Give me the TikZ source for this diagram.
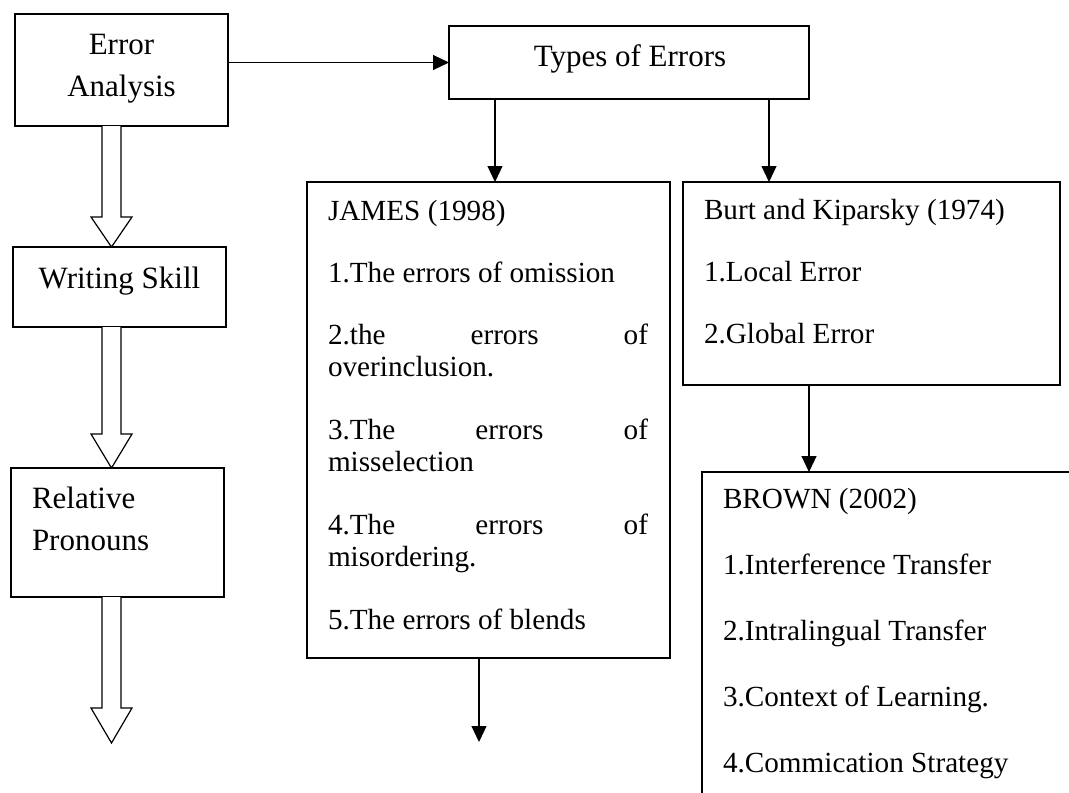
\documentclass[tikz,border=0pt]{standalone}
\usepackage{fontspec}
\setmainfont{Liberation Serif}
\usetikzlibrary{arrows.meta,calc}
\newcommand\lfnt{\fontsize{31}{37}\selectfont}
\newcommand\rfnt{\fontsize{29.2}{35}\selectfont}
\newcommand\hollowdown[3]{\draw[hollow] let \p1=(#1), \p2=(#2) in (102pt,\y1) -- (102pt,\y2+#3) -- (91pt,\y2+#3) -- (111.5pt,\y2) -- (132pt,\y2+#3) -- (121pt,\y2+#3) -- (121pt,\y1);}
\begin{document}
\begin{tikzpicture}[x=1pt,y=-1pt,
  box/.style={draw, line width=1.3pt, inner sep=0pt, outer sep=0pt, anchor=north west},
  lbl/.style={inner sep=0pt, outer sep=0pt, anchor=base west, font=\rfnt},
  lblc/.style={inner sep=0pt, outer sep=0pt, anchor=base, font=\lfnt},
  lbll/.style={inner sep=0pt, outer sep=0pt, anchor=base west, font=\lfnt},
  conn/.style={line width=1.2pt, -{Triangle[length=16pt,width=15pt]}},
  hollow/.style={line width=1.2pt, line join=miter, fill=white}]
\useasboundingbox (0,0) rectangle (1069,793);
\fill[white] (0,0) rectangle (1069,793);
\clip (0,0) rectangle (1069,793);
% boxes
\node[box, minimum width=213pt, minimum height=112pt] (ea) at (15,14) {};
\node[box, minimum width=360pt, minimum height=73pt] (types) at (449,26) {};
\node[box, minimum width=363pt, minimum height=476pt] (james) at (307,182) {};
\node[box, minimum width=377pt, minimum height=203pt] (burt) at (683,182) {};
\node[box, minimum width=213pt, minimum height=80pt] (ws) at (13,247) {};
\node[box, minimum width=213pt, minimum height=129pt] (rp) at (11,468) {};
\node[box, minimum width=450pt, minimum height=400pt] (brown) at (702,472) {};
% texts
\node[lblc] (ea1) at (121.5,54) {Error};
\node[lblc] (ea2) at (121.5,96) {Analysis};
\node[lblc] (ty) at (630,66) {Types of Errors};
\node[lblc] (ws1) at (119.5,288) {Writing Skill};
\node[lbll] (rp1) at (32,508) {Relative};
\node[lbll] (rp2) at (32,550) {Pronouns};
\node[lbl] (j0) at (328,220) {JAMES (1998)};
\node[lbl] (j1) at (328,282) {1.The errors of omission};
\node[lbl] (j2) at (328,344) {\hbox to 320pt{2.the\hfill errors\hfill of}};
\node[lbl] (j2b) at (328,376) {overinclusion.};
\node[lbl] (j3) at (328,439) {\hbox to 320pt{3.The\hfill errors\hfill of}};
\node[lbl] (j3b) at (328,471) {misselection};
\node[lbl] (j4) at (328,534) {\hbox to 320pt{4.The\hfill errors\hfill of}};
\node[lbl] (j4b) at (328,566) {misordering.};
\node[lbl] (j5) at (328,629) {5.The errors of blends};
\node[lbl] (b0) at (704,219) {Burt and Kiparsky (1974)};
\node[lbl] (b1) at (704,281) {1.Local Error};
\node[lbl] (b2) at (704,343) {2.Global Error};
\node[lbl] (r0) at (723,508) {BROWN (2002)};
\node[lbl] (r1) at (723,574) {1.Interference Transfer};
\node[lbl] (r2) at (723,640) {2.Intralingual Transfer};
\node[lbl] (r3) at (723,706) {3.Context of Learning.};
\node[lbl] (r4) at (723,772) {4.Commication Strategy};
% connectors
\draw[conn] (ea.east |- types.west) -- (types.west);
\draw[conn] (495,0 |- types.south) -- (495,0 |- james.north);
\draw[conn] (769,0 |- types.south) -- (769,0 |- burt.north);
\draw[conn] (809,0 |- burt.south) -- (809,0 |- brown.north);
\coordinate (jend) at (479,742);
\draw[conn] (jend |- james.south) -- (jend);
\hollowdown{ea.south}{ws.north}{30pt}
\hollowdown{ws.south}{rp.north}{34pt}
\coordinate (rpend) at (111.5,743);
\hollowdown{rp.south}{rpend}{35pt}
\end{tikzpicture}
\end{document}
